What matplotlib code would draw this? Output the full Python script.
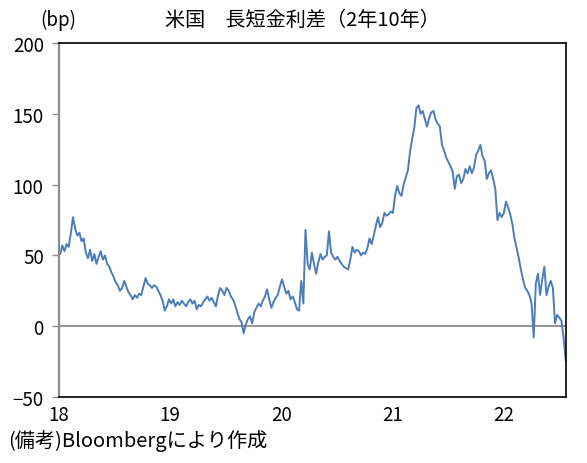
import matplotlib
matplotlib.use("Agg")
import matplotlib.pyplot as plt
import pandas as pd

plt.rcParams['font.family'] = ['Noto Sans CJK JP', 'DejaVu Sans']

# Weekly readings of the US 2y-10y spread (bp), starting first week of 2018
spread_2018 = [51, 57, 53, 58, 56, 66, 77, 69, 64, 66, 60, 62, 52,
               48, 54, 46, 51, 44, 49, 53, 47, 50, 44, 42, 38, 35,
               31, 29, 25, 27, 32, 28, 24, 22, 19, 22, 20, 23, 22,
               28, 34, 30, 29, 27, 29, 28, 25, 22, 18, 11, 14, 19]
spread_2019 = [16, 19, 14, 17, 15, 18, 16, 14, 17, 19, 16, 18, 12,
               15, 14, 17, 19, 21, 18, 20, 17, 14, 22, 27, 25, 22,
               27, 25, 21, 19, 15, 10, 5, 3, -5, 1, 5, 7, 2,
               10, 13, 16, 14, 18, 21, 26, 19, 13, 17, 20, 22, 28]
spread_2020 = [33, 28, 23, 25, 19, 21, 17, 12, 11, 32, 16, 68, 44,
               40, 52, 44, 37, 45, 51, 47, 49, 50, 67, 52, 49, 47,
               49, 46, 44, 42, 41, 40, 47, 56, 52, 54, 53, 50, 52,
               51, 55, 62, 58, 64, 71, 77, 70, 73, 80, 78, 79, 81]
spread_2021 = [80, 92, 99, 94, 92, 100, 105, 110, 123, 132, 140, 154, 156,
               150, 152, 146, 141, 147, 151, 152, 146, 143, 141, 128, 124, 119,
               116, 113, 109, 97, 106, 107, 101, 104, 111, 108, 113, 108, 112,
               121, 124, 128, 120, 117, 104, 108, 110, 104, 97, 75, 80, 77]
spread_2022 = [80, 88, 84, 79, 72, 62, 55, 48, 40, 33, 27, 25, 22,
               16, -8, 30, 37, 22, 33, 42, 22, 28, 32, 27, 2, 8, 6, 4, -8, -24]

values = spread_2018 + spread_2019 + spread_2020 + spread_2021 + spread_2022
dates = pd.date_range('2018-01-05', periods=len(values), freq='7D')

year_ticks = ['2018-01-01', '2019-01-01', '2020-01-01', '2021-01-01', '2022-01-01']
year_labels = ['18', '19', '20', '21', '22']
y_ticks = [-50, 0, 50, 100, 150, 200]

fig = plt.figure(figsize=(5.87, 4.64), dpi=100)
ax = fig.add_axes([59/587, 1-398/464, (566-59)/587, (398-44)/464])

ax.axhline(0, color='#8c8c8c', lw=1.3, zorder=1)
ax.plot(dates, values, color='#4a7ebb', lw=1.4, zorder=2)

ax.set_xlim(pd.Timestamp('2018-01-01'), dates[-1] + pd.Timedelta(days=1))
ax.set_ylim(-50, 200)
ax.set_yticks(y_ticks)
ax.set_xticks([pd.Timestamp(d) for d in year_ticks])
ax.set_xticklabels(year_labels)

ax.tick_params(axis='y', direction='out', length=5, width=1, color='#8c8c8c',
               labelsize=13.5, pad=6)
ax.tick_params(axis='x', length=0, labelsize=13.5, pad=5)

for s in ['top', 'right', 'bottom']:
    ax.spines[s].set_color('black')
    ax.spines[s].set_linewidth(1.2)
ax.spines['left'].set_color('#8c8c8c')
ax.spines['left'].set_linewidth(1.6)

fig.text(302/587, 1-20/464, '米国　長短金利差（2年10年）', ha='center', va='center', fontsize=14.5)
fig.text(58/587, 1-20/464, '(bp)', ha='center', va='center', fontsize=13.5)
fig.text(8/587, 1-441/464, '(備考)Bloombergにより作成', ha='left', va='center', fontsize=14.5)

fig.savefig('out.png', dpi=100)
